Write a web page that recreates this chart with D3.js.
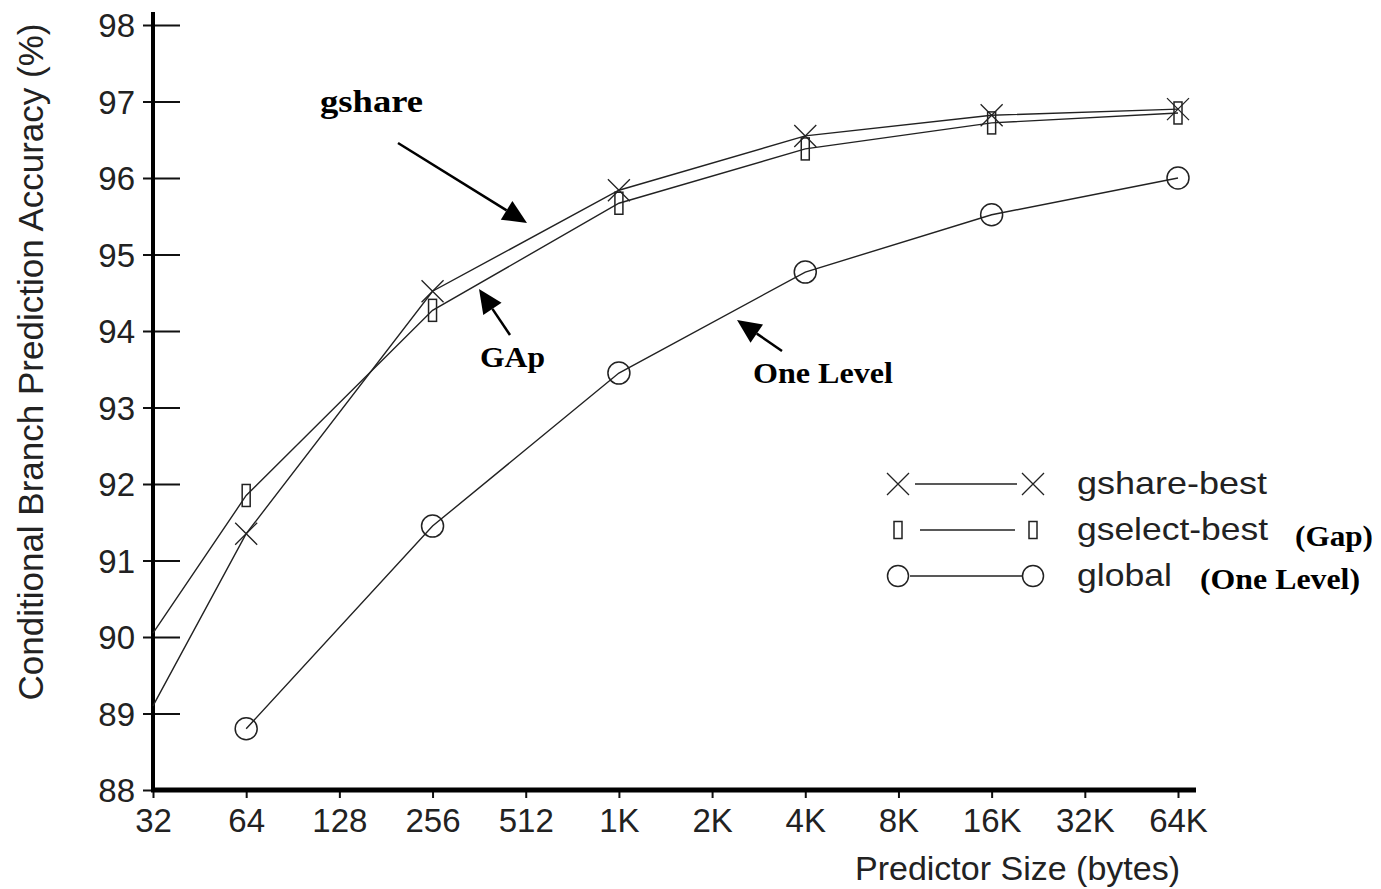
<!DOCTYPE html>
<html lang="en">
<head>
<meta charset="UTF-8">
<title>Predictor Size vs Accuracy</title>
<script src="https://cdn.jsdelivr.net/npm/d3@7/dist/d3.min.js"></script>
<style>
  body { margin: 0; background: #fff; }
  svg { display: block; }
  .sans { font-family: Arial, "Liberation Sans", sans-serif; fill: #222; }
  .serif { font-family: "Times New Roman", "Liberation Serif", serif; font-weight: bold; fill: #000; }
</style>
</head>
<body>
<svg id="chart" width="1381" height="889"></svg>
<script>
// x axis categories (predictor sizes)
const sizes = ["32", "64", "128", "256", "512", "1K", "2K", "4K", "8K", "16K", "32K", "64K"];
// sizes that were measured
const measured = ["32", "64", "256", "1K", "4K", "16K", "64K"];
// accuracy in %
const gshareBest  = [89.1, 91.35, 94.52, 95.84, 96.55, 96.82, 96.9];
const gselectBest = [90.05, 91.85, 94.27, 95.67, 96.38, 96.72, 96.85];
const globalAcc   = [null, 88.8, 91.45, 93.45, 94.77, 95.52, 96.0];
const yTicks = [88, 89, 90, 91, 92, 93, 94, 95, 96, 97, 98];

const series = [
  { name: "gshare-best", values: gshareBest, marker: "x" },
  { name: "gselect-best", values: gselectBest, marker: "box" },
  { name: "global", values: globalAcc, marker: "circle" }
];

const svg = d3.select("#chart");
const x = d3.scalePoint().domain(sizes).range([153, 1178]);
const y = d3.scaleLinear().domain([88, 98]).range([790, 25]);

// draw one marker shape at (cx, cy)
function marker(g, type, cx, cy, small) {
  if (type === "x") {
    const h = 11;
    g.append("path")
      .attr("d", `M${cx - h},${cy - h}L${cx + h},${cy + h}M${cx - h},${cy + h}L${cx + h},${cy - h}`)
      .attr("stroke", "#222").attr("stroke-width", 1.3).attr("fill", "none");
  } else if (type === "box") {
    const w = 8, hh = small ? 17 : 22;
    g.append("rect")
      .attr("x", cx - w / 2).attr("y", cy - hh / 2)
      .attr("width", w).attr("height", hh)
      .attr("stroke", "#222").attr("stroke-width", 1.5).attr("fill", "none");
  } else {
    g.append("circle")
      .attr("cx", cx).attr("cy", cy).attr("r", small ? 10.5 : 11)
      .attr("stroke", "#222").attr("stroke-width", 1.5).attr("fill", "none");
  }
}

// y axis
const yAxis = svg.append("g")
  .attr("transform", "translate(153,0)")
  .call(d3.axisLeft(y).tickValues(yTicks).tickSize(-27).tickPadding(18));
yAxis.select(".domain").remove();
yAxis.selectAll(".tick line").attr("x1", -10).attr("stroke", "#111").attr("stroke-width", 2);
yAxis.selectAll(".tick text")
  .attr("class", "sans").attr("x", -18).attr("dy", "0.36em")
  .style("font-size", "33px");
svg.append("line")
  .attr("x1", 153).attr("x2", 153).attr("y1", 12).attr("y2", 792)
  .attr("stroke", "#000").attr("stroke-width", 4);

// x axis
const xAxis = svg.append("g")
  .attr("transform", "translate(0,790)")
  .call(d3.axisBottom(x).tickSize(-28));
xAxis.select(".domain").remove();
xAxis.selectAll(".tick line").attr("y2", 8).attr("stroke", "#111").attr("stroke-width", 2);
xAxis.selectAll(".tick text")
  .attr("class", "sans").attr("y", 42).attr("dy", 0)
  .style("font-size", "33px");
svg.append("line")
  .attr("x1", 151).attr("x2", 1196).attr("y1", 790).attr("y2", 790)
  .attr("stroke", "#000").attr("stroke-width", 5);

// axis titles
svg.append("text")
  .attr("class", "sans")
  .attr("transform", "translate(43,362) rotate(-90)")
  .attr("text-anchor", "middle")
  .style("font-size", "35px")
  .text("Conditional Branch Prediction Accuracy (%)");
svg.append("text")
  .attr("class", "sans")
  .attr("x", 1180).attr("y", 880)
  .attr("text-anchor", "end")
  .style("font-size", "34px")
  .text("Predictor Size (bytes)");

// series lines and markers
const line = d3.line()
  .defined(d => d.v != null)
  .x(d => x(d.s))
  .y(d => y(d.v));

series.forEach(s => {
  const pts = measured.map((m, i) => ({ s: m, v: s.values[i] }));
  svg.append("path")
    .datum(pts)
    .attr("d", line)
    .attr("fill", "none")
    .attr("stroke", "#222")
    .attr("stroke-width", 1.4);
  const g = svg.append("g");
  pts.forEach((p, i) => {
    if (i === 0 || p.v == null) return; // no marker on the axis
    marker(g, s.marker, x(p.s), y(p.v), false);
  });
});

// legend
const legendRows = [
  { y: 484, x1: 915, x2: 1017, w: 190 },
  { y: 530, x1: 920, x2: 1015, w: 191 },
  { y: 576, x1: 910, x2: 1023, w: 95 }
];
series.forEach((s, i) => {
  const r = legendRows[i];
  const g = svg.append("g");
  marker(g, s.marker, 898, r.y, true);
  marker(g, s.marker, 1033, r.y, true);
  g.append("line")
    .attr("x1", r.x1).attr("x2", r.x2).attr("y1", r.y).attr("y2", r.y)
    .attr("stroke", "#222").attr("stroke-width", 1.4);
  g.append("text")
    .attr("class", "sans")
    .attr("x", 1077).attr("y", r.y + 10)
    .attr("textLength", r.w).attr("lengthAdjust", "spacingAndGlyphs")
    .style("font-size", "32px")
    .text(s.name);
});

// annotations
const notes = [
  { text: "gshare", x: 320, y: 112, size: 32, w: 103 },
  { text: "GAp", x: 480, y: 367, size: 30, w: 65 },
  { text: "One Level", x: 753, y: 383, size: 30, w: 140 },
  { text: "(Gap)", x: 1295, y: 546, size: 29, w: 78 },
  { text: "(One Level)", x: 1200, y: 589, size: 29, w: 160 }
];
notes.forEach(n => {
  svg.append("text")
    .attr("class", "serif")
    .attr("x", n.x).attr("y", n.y)
    .attr("textLength", n.w).attr("lengthAdjust", "spacingAndGlyphs")
    .style("font-size", n.size + "px")
    .text(n.text);
});

// arrows: tail -> tip
const arrows = [
  { x1: 398, y1: 143, x2: 527, y2: 223 },
  { x1: 510, y1: 335, x2: 479, y2: 289 },
  { x1: 782, y1: 351, x2: 737, y2: 320 }
];
arrows.forEach(a => {
  const ang = Math.atan2(a.y2 - a.y1, a.x2 - a.x1);
  const len = 24, half = 11;
  const bx = a.x2 - len * Math.cos(ang), by = a.y2 - len * Math.sin(ang);
  svg.append("line")
    .attr("x1", a.x1).attr("y1", a.y1).attr("x2", bx).attr("y2", by)
    .attr("stroke", "#000").attr("stroke-width", 2.5);
  const p1 = [bx + half * Math.sin(ang), by - half * Math.cos(ang)];
  const p2 = [bx - half * Math.sin(ang), by + half * Math.cos(ang)];
  svg.append("path")
    .attr("d", `M${a.x2},${a.y2}L${p1}L${p2}Z`)
    .attr("fill", "#000");
});
</script>
</body>
</html>
